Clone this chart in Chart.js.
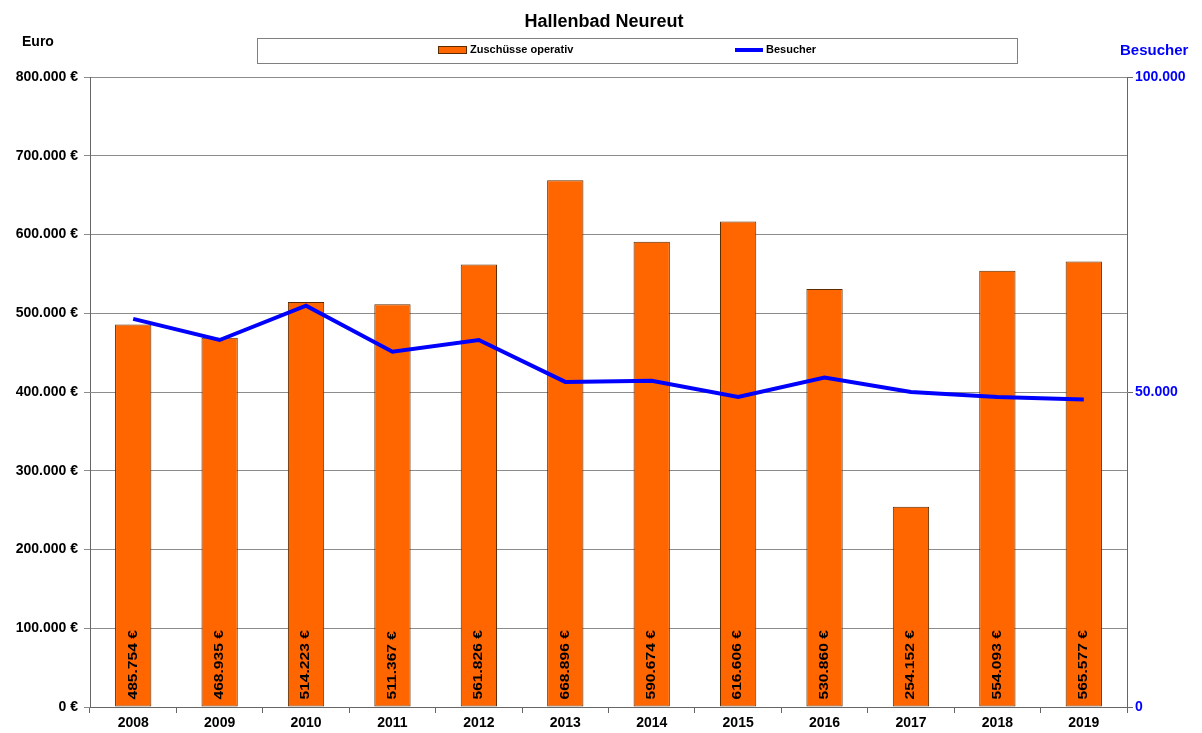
<!DOCTYPE html>
<html>
<head>
<meta charset="utf-8">
<title>Hallenbad Neureut</title>
<script src="https://cdn.jsdelivr.net/npm/chart.js@4.4.1/dist/chart.umd.min.js"></script>
<style>
  html, body { margin: 0; padding: 0; background: #ffffff; }
  #wrap { width: 1202px; height: 733px; }
</style>
</head>
<body>
<div id="wrap"><canvas id="c" width="1202" height="733"></canvas></div>
<script>
const years = ['2008','2009','2010','2011','2012','2013','2014','2015','2016','2017','2018','2019'];
const zuschuesse = [485754, 468935, 514223, 511367, 561826, 668896, 590674, 616606, 530860, 254152, 554093, 565577];
const besucher = [61600, 58250, 63700, 56400, 58250, 51600, 51800, 49200, 52300, 50000, 49200, 48800];
const euroTicksMax = 800000;
const besucherTicksMax = 100000;

const FONT = '"Liberation Sans", Arial, sans-serif';
const ORANGE = '#ff6600';
const ORANGE_BORDER = '#5c2c00';
const BLUE = '#0000ff';

function fmt(n) {
  return String(Math.round(n)).replace(/\B(?=(\d{3})+(?!\d))/g, '.');
}

const decorPlugin = {
  id: 'decor',
  afterDraw(chart) {
    const ctx = chart.ctx;
    ctx.save();
    // Title
    ctx.fillStyle = '#000';
    ctx.font = 'bold 18px ' + FONT;
    ctx.textAlign = 'center';
    ctx.textBaseline = 'middle';
    ctx.fillText('Hallenbad Neureut', 604, 22);
    // Euro axis title
    ctx.font = 'bold 14px ' + FONT;
    ctx.textAlign = 'left';
    ctx.fillText('Euro', 22, 42);
    // Besucher axis title
    ctx.fillStyle = BLUE;
    ctx.font = 'bold 15px ' + FONT;
    ctx.fillText('Besucher', 1120, 51);
    // Legend box
    ctx.strokeStyle = '#808080';
    ctx.lineWidth = 1;
    ctx.strokeRect(257.5, 38.5, 760, 25);
    // Legend item 1
    ctx.fillStyle = ORANGE;
    ctx.fillRect(438, 46, 29, 8);
    ctx.strokeStyle = ORANGE_BORDER;
    ctx.strokeRect(438.5, 46.5, 28, 7);
    ctx.fillStyle = '#000';
    ctx.font = 'bold 11px ' + FONT;
    ctx.textBaseline = 'middle';
    ctx.fillText(chart.data.datasets[0].label, 470, 50);
    // Legend item 2
    ctx.strokeStyle = BLUE;
    ctx.lineWidth = 4;
    ctx.beginPath();
    ctx.moveTo(735, 50);
    ctx.lineTo(763, 50);
    ctx.stroke();
    ctx.fillText(chart.data.datasets[1].label, 766, 50);
    ctx.restore();
  }
};

const barLabelPlugin = {
  id: 'barLabels',
  afterDatasetsDraw(chart) {
    const ctx = chart.ctx;
    const meta = chart.getDatasetMeta(0);
    const data = chart.data.datasets[0].data;
    ctx.save();
    ctx.fillStyle = '#000';
    ctx.font = 'bold 12px ' + FONT;
    ctx.textAlign = 'left';
    ctx.textBaseline = 'middle';
    meta.data.forEach((el, i) => {
      ctx.save();
      ctx.translate(el.x, el.base - 7);
      ctx.rotate(-Math.PI / 2);
      ctx.scale(1.3, 1);
      ctx.fillText(fmt(data[i]) + ' €', 0, 0);
      ctx.restore();
    });
    ctx.restore();
  }
};

new Chart(document.getElementById('c'), {
  type: 'bar',
  data: {
    labels: years,
    datasets: [
      {
        type: 'bar',
        label: 'Zuschüsse operativ',
        data: zuschuesse,
        backgroundColor: ORANGE,
        borderColor: ORANGE_BORDER,
        borderWidth: 1,
        borderSkipped: false,
        barPercentage: 0.42,
        categoryPercentage: 1.0,
        yAxisID: 'y',
        order: 2
      },
      {
        type: 'line',
        label: 'Besucher',
        data: besucher,
        borderColor: BLUE,
        backgroundColor: BLUE,
        borderWidth: 4,
        pointRadius: 0,
        tension: 0,
        yAxisID: 'y1',
        order: 1
      }
    ]
  },
  options: {
    responsive: false,
    animation: false,
    devicePixelRatio: 1,
    layout: { padding: { top: 77, left: 0, right: 0, bottom: 0 } },
    plugins: {
      legend: { display: false },
      title: { display: false },
      tooltip: { enabled: false }
    },
    scales: {
      x: {
        offset: true,
        grid: { offset: true, drawOnChartArea: false, drawTicks: true, tickLength: 6, color: '#666' },
        border: { color: '#666', width: 1 },
        ticks: { color: '#000', font: { family: FONT, size: 14, weight: 'bold' }, padding: 2, maxRotation: 0 },
        afterFit: s => { s.height = 26; }
      },
      y: {
        position: 'left',
        min: 0,
        max: euroTicksMax,
        ticks: {
          stepSize: 100000,
          color: '#000',
          font: { family: FONT, size: 14, weight: 'bold' },
          padding: 6,
          callback: v => fmt(v) + ' €'
        },
        grid: { color: '#8c8c8c', tickLength: 6, lineWidth: 1 },
        border: { color: '#666', width: 1 },
        afterFit: s => { s.width = 90; }
      },
      y1: {
        position: 'right',
        min: 0,
        max: besucherTicksMax,
        ticks: {
          stepSize: 50000,
          color: BLUE,
          font: { family: FONT, size: 14, weight: 'bold' },
          padding: 2,
          callback: v => fmt(v)
        },
        grid: { drawOnChartArea: false, tickLength: 6, color: '#666' },
        border: { color: '#666', width: 1 },
        afterFit: s => { s.width = 75; }
      }
    }
  },
  plugins: [barLabelPlugin, decorPlugin]
});
</script>
</body>
</html>
